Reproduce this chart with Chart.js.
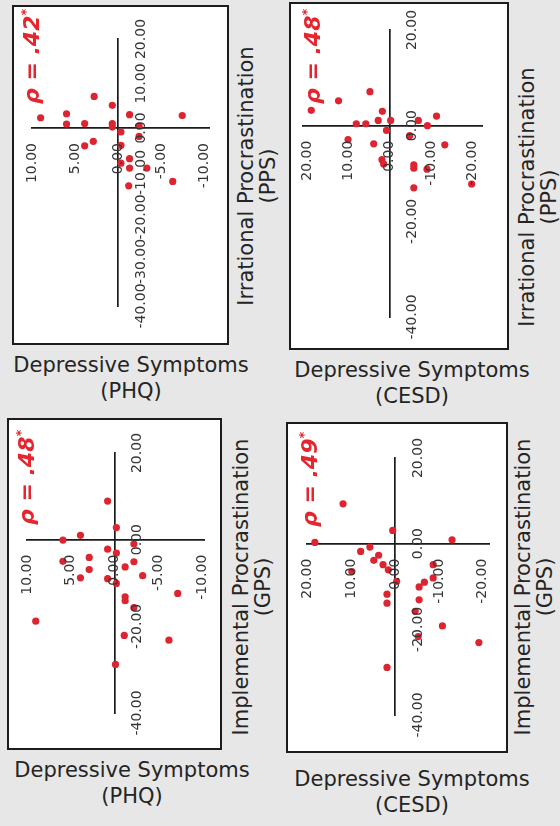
<!DOCTYPE html>
<html>
<head>
<meta charset="utf-8">
<script src="https://cdn.jsdelivr.net/npm/chart.js@4.4.1/dist/chart.umd.min.js"></script>
<style>
  html, body { margin: 0; padding: 0; }
  body { width: 560px; height: 826px; background: #e7e7e7; position: relative; overflow: hidden;
         font-family: "DejaVu Sans", Verdana, sans-serif; color: #242424; }
  .box { position: absolute; box-sizing: border-box; border: 2px solid #1c1c1c; background: #fff; }
  .box canvas { position: absolute; left: 0; top: 0; }
  .rho { position: absolute; transform-origin: 0 0; transform: rotate(-90deg); white-space: nowrap;
         color: #e5262f; font-weight: bold; font-style: italic; font-size: 22px; line-height: 24px; }
  .rho sup { font-size: 13px; line-height: 0; vertical-align: 9px; }
  .xt { position: absolute; text-align: center; font-size: 21px; line-height: 26px; white-space: nowrap; }
  .yt { position: absolute; transform-origin: 0 0; transform: rotate(-90deg); text-align: center;
        font-size: 21px; line-height: 22px; white-space: nowrap; }
</style>
</head>
<body>
<script>
// tick values
const phqTicks = [10, 5, 0, -5, -10];
const cesdTicks = [20, 10, 0, -10, -20];
const procTicksFine = [20, 10, 0, -10, -20, -30, -40];
const procTicks = [20, 0, -20, -40];

// PHQ vs PPS
const phqPpsDep = [9.0, 6.0, 6.0, 2.8, 3.9, 3.9, 2.9, 0.7, 0.7, 0.7, -1.3, -0.3, -0.3, -0.3, -1.3, -1.3, -2.4, -2.4, -3.3, -1.2, -6.3, -7.4];
const phqPpsProc = [2.3, 3.2, 0.9, 7.1, 1.0, -4.0, -3.0, 5.1, 1.0, 0.2, 3.0, -0.9, -3.9, -7.9, -6.9, -9.0, 0.4, -1.9, -9.0, -13.0, -12.0, 2.8];

// CESD vs PPS
const cesdPpsDep = [19.0, 12.4, 4.8, 1.8, 2.8, -0.2, 8.1, 5.8, 0.8, 10.1, 3.9, 1.9, 1.5, -4.8, -6.9, -9.1, -11.3, -13.3, -5.8, -5.8, -9.0, -5.8, -19.8];
const cesdPpsProc = [3.2, 5.2, 7.1, 3.0, 1.1, 1.1, 0.4, 0.4, -1.0, -2.9, -3.8, -7.1, -8.0, -2.1, 1.1, 0.0, 2.0, -4.0, -8.2, -8.9, -9.1, -13.0, -12.2];

// PHQ vs GPS
const phqGpsDep = [0.8, -0.2, 3.9, 5.9, -2.2, 0.8, -0.2, 5.9, 2.9, 2.9, 3.9, 0.8, -0.2, -2.2, -1.2, -3.2, -1.2, -1.2, -2.2, -7.2, 9.0, -1.1, -6.2, -0.1];
const phqGpsProc = [8.9, 2.8, 1.0, -0.1, -1.0, -2.2, -3.1, -5.0, -4.1, -6.9, -8.8, -9.0, -10.1, -5.1, -6.3, -8.3, -13.2, -14.1, -15.7, -12.4, -18.8, -22.1, -23.2, -28.8];

// CESD vs GPS
const cesdGpsDep = [11.8, 18.2, 0.5, -13.0, 5.7, 7.8, 3.7, 4.8, 2.7, 1.5, 9.8, -0.4, 1.8, 1.8, -8.7, -8.7, -6.7, -5.5, -5.5, -4.6, -5.3, -10.8, -19.1, 1.8];
const cesdGpsProc = [9.3, 0.3, 3.1, 0.9, -0.8, -1.8, -2.7, -3.9, -4.9, -6.1, -6.5, -8.8, -11.8, -13.9, -4.9, -8.0, -9.0, -10.1, -13.1, -15.8, -21.7, -19.2, -23.1, -28.9];

const rhoValues = ['.42', '.48', '.48', '.49'];

const panels = [
  { dep: phqPpsDep, proc: phqPpsProc, xTicks: phqTicks, yTicks: procTicksFine, xMin: -10.5, xMax: 10,
    rho: rhoValues[0], xTitle: ['Depressive Symptoms', '(PHQ)'], yTitle: ['Irrational Procrastination', '(PPS)'],
    box: [12, 5, 229, 345], area: [32, 39, 209, 306], rhoPos: [20, 104],
    xtPos: [131, 352], ytPos: [235, 176] },
  { dep: cesdPpsDep, proc: cesdPpsProc, xTicks: cesdTicks, yTicks: procTicks, xMin: -22.3, xMax: 21,
    rho: rhoValues[1], xTitle: ['Depressive Symptoms', '(CESD)'], yTitle: ['Irrational Procrastination', '(PPS)'],
    box: [289, 2, 509, 350], area: [303, 30, 482, 317], rhoPos: [301, 104],
    xtPos: [412, 357], ytPos: [516, 197] },
  { dep: phqGpsDep, proc: phqGpsProc, xTicks: phqTicks, yTicks: procTicks, xMin: -10.2, xMax: 10,
    rho: rhoValues[2], xTitle: ['Depressive Symptoms', '(PHQ)'], yTitle: ['Implemental Procrastination', '(GPS)'],
    box: [7, 418, 222, 750], area: [27, 453, 204, 713], rhoPos: [15, 525],
    xtPos: [132, 757], ytPos: [230, 587] },
  { dep: cesdGpsDep, proc: cesdGpsProc, xTicks: cesdTicks, yTicks: procTicks, xMin: -21.4, xMax: 20,
    rho: rhoValues[3], xTitle: ['Depressive Symptoms', '(CESD)'], yTitle: ['Implemental Procrastination', '(GPS)'],
    box: [286, 422, 508, 753], area: [307, 458, 489, 715], rhoPos: [298, 527],
    xtPos: [412, 766], ytPos: [512, 587] }
];

function crossLabels(xTicks, yTicks) {
  return {
    id: 'crossLabels',
    afterDraw(chart) {
      const ctx = chart.ctx, xs = chart.scales.x, ys = chart.scales.y;
      const x0 = xs.getPixelForValue(0), y0 = ys.getPixelForValue(0);
      ctx.save();
      ctx.fillStyle = '#353535';
      ctx.font = '14px "DejaVu Sans", Verdana, sans-serif';
      ctx.textBaseline = 'middle';
      xTicks.forEach(v => {
        ctx.save();
        ctx.translate(xs.getPixelForValue(v), y0 + 15);
        ctx.rotate(-Math.PI / 2);
        ctx.textAlign = 'right';
        ctx.fillText(v.toFixed(2), 0, 0);
        ctx.restore();
      });
      yTicks.forEach(v => {
        ctx.save();
        ctx.translate(x0 + 23, ys.getPixelForValue(v));
        ctx.rotate(-Math.PI / 2);
        ctx.textAlign = 'center';
        ctx.fillText(v.toFixed(2), 0, 0);
        ctx.restore();
      });
      ctx.restore();
    }
  };
}

function addDiv(cls, html, css) {
  const d = document.createElement('div');
  d.className = cls;
  d.innerHTML = html;
  Object.assign(d.style, css);
  document.body.appendChild(d);
  return d;
}

panels.forEach(p => {
  const [bl, bt, br, bb] = p.box;
  const box = addDiv('box', '', { left: bl + 'px', top: bt + 'px', width: (br - bl) + 'px', height: (bb - bt) + 'px' });
  const w = br - bl - 4, h = bb - bt - 4;
  const canvas = document.createElement('canvas');
  canvas.width = w; canvas.height = h;
  box.appendChild(canvas);
  const il = bl + 2, it = bt + 2;
  const [al, at, ar, ab] = p.area;

  new Chart(canvas, {
    type: 'scatter',
    data: {
      datasets: [{
        data: p.dep.map((d, i) => ({ x: d, y: p.proc[i] })),
        backgroundColor: '#dc2530',
        borderWidth: 0,
        pointRadius: 3.6
      }]
    },
    options: {
      responsive: false,
      animation: false,
      layout: { padding: { left: al - il, top: at - it, right: il + w - ar, bottom: it + h - ab } },
      plugins: { legend: { display: false }, tooltip: { enabled: false } },
      scales: {
        x: {
          type: 'linear', reverse: true, min: p.xMin, max: p.xMax,
          position: { y: 0 },
          grid: { display: false },
          ticks: { display: false },
          border: { display: true, color: '#1b1b1b', width: 1.7 }
        },
        y: {
          type: 'linear', min: -40, max: 20,
          position: { x: 0 },
          grid: { display: false },
          ticks: { display: false },
          border: { display: true, color: '#1b1b1b', width: 1.7 }
        }
      }
    },
    plugins: [crossLabels(p.xTicks, p.yTicks)]
  });

  addDiv('rho', '\u03c1 = ' + p.rho + '<sup>*</sup>', { left: p.rhoPos[0] + 'px', top: p.rhoPos[1] + 'px' });
  addDiv('xt', p.xTitle.join('<br>'), { left: (p.xtPos[0] - 140) + 'px', top: p.xtPos[1] + 'px', width: '280px' });
  addDiv('yt', p.yTitle.join('<br>'), { left: p.ytPos[0] + 'px', top: (p.ytPos[1] + 170) + 'px', width: '340px' });
});
</script>
</body>
</html>
